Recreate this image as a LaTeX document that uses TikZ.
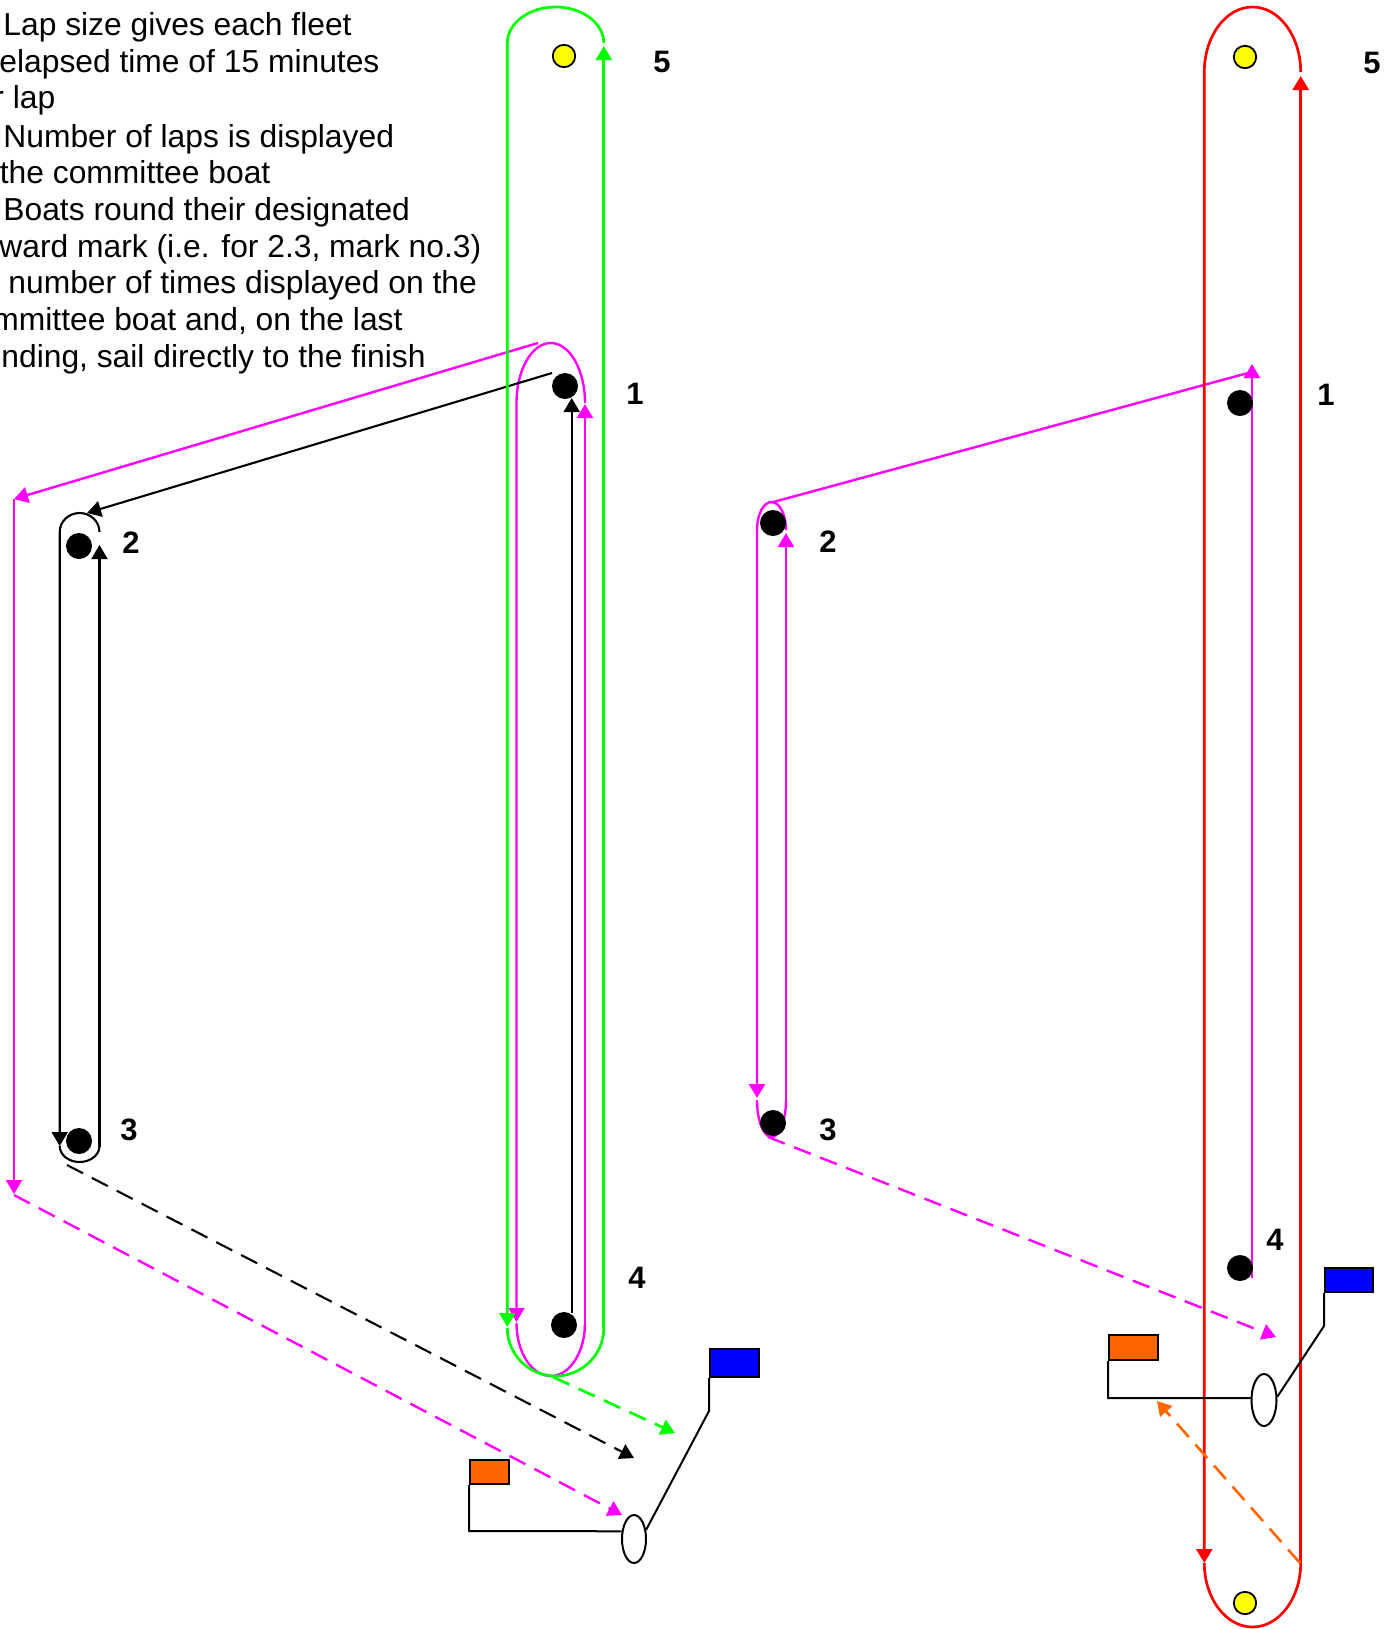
\documentclass[tikz,border=0pt]{standalone}
\usepackage{fontspec}
\setmainfont{Liberation Sans}
\usetikzlibrary{arrows.meta,shapes.geometric}
\definecolor{cgreen}{RGB}{0,255,0}
\definecolor{cmag}{RGB}{255,0,255}
\definecolor{cred}{RGB}{255,0,0}
\definecolor{corange}{RGB}{255,102,0}
\definecolor{cblue}{RGB}{0,0,255}
\definecolor{cyellow}{RGB}{255,255,0}
\begin{document}
\begin{tikzpicture}[x=0.5pt,y=-0.5pt,
 arr/.style={-{Triangle[length=7pt,width=8pt]}},
 gline/.style={draw=cgreen,line width=1.35pt},
 mline/.style={draw=cmag,line width=1.2pt},
 rline/.style={draw=cred,line width=1.35pt},
 oline/.style={draw=corange,line width=1.3pt},
 kline/.style={draw=black,line width=1.05pt},
 dashline/.style={dash pattern=on 9pt off 5pt},
 bmark/.style={circle,fill=black,inner sep=0pt,minimum size=13pt},
 ymark/.style={circle,fill=cyellow,draw=black,line width=0.9pt,inner sep=0pt,minimum size=11.2pt},
 num/.style={font=\fontsize{15.5}{16}\selectfont\bfseries,inner sep=0pt},
 txt/.style={font=\fontsize{15.9}{18}\selectfont,anchor=base west,inner sep=0pt},
 boat/.style={ellipse,draw=black,line width=1pt,fill=white,inner sep=0pt},
 flagbox/.style={draw=black,line width=1pt},
 pole/.style={draw=black,line width=1pt}]
\fill[white] (0,0) rectangle (1389,1629);
\useasboundingbox (0,0) rectangle (1389,1629);

% ---------------- left course ----------------
% magenta
\coordinate (mA1) at (585,1323);
\coordinate (mA2) at (585,404);
\coordinate (mA3) at (585,403);
\coordinate (mA4) at (516.5,1322);
\coordinate (mA5) at (516.5,1323);
\draw[mline,arr] (mA1) -- (mA2);
\draw[mline,arr] (mA3) arc[start angle=0,end angle=-180,x radius=34.25,y radius=60] -- (mA4);
\draw[mline] (mA5) arc[start angle=180,end angle=0,x radius=34.25,y radius=53];
\coordinate (mB1) at (538,343);
\coordinate (mB2) at (14,499);
\coordinate (mB3) at (14,1194);
\coordinate (mB4) at (14,1195);
\coordinate (mB5) at (622,1515);
\draw[mline,arr] (mB1) -- (mB2);
\draw[mline,arr] (mB2) -- (mB3);
\draw[mline,dashline,arr] (mB4) -- (mB5);

% black
\coordinate (kA1) at (571.7,1313);
\coordinate (kA2) at (571.7,398);
\coordinate (kB1) at (552,373);
\coordinate (kB2) at (87,513);
\coordinate (kC1) at (99.5,1147);
\coordinate (kC2) at (99.5,545);
\coordinate (kC3) at (99.5,532);
\coordinate (kC4) at (59.7,1146);
\coordinate (kD1) at (67,1165);
\coordinate (kD2) at (634,1458);
\draw[kline,arr] (kA1) -- (kA2);
\draw[kline,arr] (kB1) -- (kB2);
\draw[kline,arr] (kC1) -- (kC2);
\draw[kline,arr] (kC3) arc[start angle=0,end angle=-180,x radius=19.9,y radius=19] -- (kC4);
\draw[kline] (kC4) arc[start angle=180,end angle=0,x radius=19.9,y radius=16];
\draw[kline,dashline,arr] (kD1) -- (kD2);

% green
\coordinate (gR1) at (603.8,1328);
\coordinate (gR2) at (603.8,46);
\coordinate (gT) at (603.8,43);
\coordinate (gL2) at (507.3,1327);
\coordinate (gL1) at (507.3,1328);
\coordinate (gd1) at (553,1377);
\coordinate (gd2) at (675,1433);
\draw[gline,arr] (gR1) -- (gR2);
\draw[gline,arr] (gT) arc[start angle=0,end angle=-180,x radius=48.25,y radius=36] -- (gL2);
\draw[gline] (gL1) arc[start angle=180,end angle=0,x radius=48.25,y radius=48];
\draw[gline,dashline,arr] (gd1) -- (gd2);

% left boat and flags
\node[boat,minimum width=12pt,minimum height=24pt] (lboat) at (634,1539) {};
\node[flagbox,fill=corange,anchor=north west,minimum width=19.5pt,minimum height=12pt,inner sep=0pt] (lorange) at (469,1459) {};
\node[flagbox,fill=cblue,anchor=north west,minimum width=24.5pt,minimum height=14pt,inner sep=0pt] (lblue) at (709,1348) {};
\coordinate (lop) at (469,1531);
\coordinate (lbp) at (709,1411);
\draw[pole] (lorange.south west) -- (lop) -- (lboat.148);
\draw[pole] (lblue.south west) -- (lbp) -- (lboat.37);

% ---------------- right course ----------------
\coordinate (nA1) at (1252,1278);
\coordinate (nA2) at (1252,364);
\coordinate (nB1) at (1248,373);
\coordinate (nB2) at (771.5,502.5);
\coordinate (nC1) at (786,530);
\coordinate (nC2) at (757,1098);
\coordinate (nC3) at (757,1100);
\coordinate (nC4) at (786,1100);
\coordinate (nC5) at (786,533);
\coordinate (nD1) at (768,1137);
\coordinate (nD2) at (1276,1337);
\draw[mline,arr] (nA1) -- (nA2);
\draw[mline] (nB1) -- (nB2);
\draw[mline,arr] (nC1) arc[start angle=0,end angle=-180,x radius=14.5,y radius=28] -- (nC2);
\draw[mline] (nC3) arc[start angle=180,end angle=0,x radius=14.5,y radius=37];
\draw[mline,arr] (nC4) -- (nC5);
\draw[mline,dashline,arr] (nD1) -- (nD2);

% red
\coordinate (rR1) at (1300.7,1563);
\coordinate (rR2) at (1300.7,76);
\coordinate (rT) at (1300.7,72);
\coordinate (rL2) at (1204.3,1563);
\coordinate (rL1) at (1204.3,1563);
\draw[rline,arr] (rR1) -- (rR2);
\draw[rline,arr] (rT) arc[start angle=0,end angle=-180,x radius=48.2,y radius=65] -- (rL2);
\draw[rline] (rL1) arc[start angle=180,end angle=0,x radius=48.2,y radius=64];

% orange dashed
\coordinate (od1) at (1300,1563);
\coordinate (od2) at (1157,1401);
\draw[oline,dashline,arr] (od1) -- (od2);

% right boat and flags
\node[boat,minimum width=12.5pt,minimum height=26pt] (rboat) at (1264,1400) {};
\node[flagbox,fill=corange,anchor=north west,minimum width=24.5pt,minimum height=12.5pt,inner sep=0pt] (rorange) at (1108,1334) {};
\node[flagbox,fill=cblue,anchor=north west,minimum width=24pt,minimum height=12pt,inner sep=0pt] (rblue) at (1324,1267) {};
\coordinate (rop) at (1108,1398);
\coordinate (rbp) at (1324,1326);
\draw[pole] (rorange.south west) -- (rop) -- (rboat.172);
\draw[pole] (rblue.south west) -- (rbp) -- (rboat.14);

% ---------------- marks ----------------
\node[ymark] (y5l) at (564,56) {};
\node[bmark] (k1l) at (565,386) {};
\node[bmark] (k2l) at (79,546) {};
\node[bmark] (k3l) at (79,1141) {};
\node[bmark] (k4l) at (564,1325) {};
\node[ymark] (y5r) at (1245,57) {};
\node[ymark] (y0r) at (1245,1603) {};
\node[bmark] (k1r) at (1240,403) {};
\node[bmark] (k2r) at (773,523) {};
\node[bmark] (k3r) at (773,1123) {};
\node[bmark] (k4r) at (1240,1268) {};

% labels
\node[num] (l5l) at (662,62) {5};
\node[num] (l1l) at (635,394) {1};
\node[num] (l2l) at (131,543) {2};
\node[num] (l3l) at (129,1130) {3};
\node[num] (l4l) at (637,1278) {4};
\node[num] (l5r) at (1372,63) {5};
\node[num] (l1r) at (1326,395) {1};
\node[num] (l2r) at (828,542) {2};
\node[num] (l3r) at (828,1130) {3};
\node[num] (l4r) at (1275,1240) {4};

% ---------------- text ----------------
\node[txt] (t1) at (3,35) {Lap size gives each fleet};
\node[txt] (t2) at (-1,72) {elapsed time of 15 minutes};
\node[txt] (t3) at (-7,108) {r lap};
\node[txt] (t4) at (3,147) {Number of laps is displayed};
\node[txt] (t5) at (-0.5,183) {the committee boat};
\node[txt] (t6) at (3,220) {Boats round their designated};
\node[txt] (t7) at (-1,257) {ward mark (i.e. for 2.3, mark no.3)};
\node[txt] (t8) at (8,293) {number of times displayed on the};
\node[txt] (t9) at (-8,330) {mmittee boat and, on the last};
\node[txt] (t10) at (1,367) {nding, sail directly to the finish};
\end{tikzpicture}
\end{document}
